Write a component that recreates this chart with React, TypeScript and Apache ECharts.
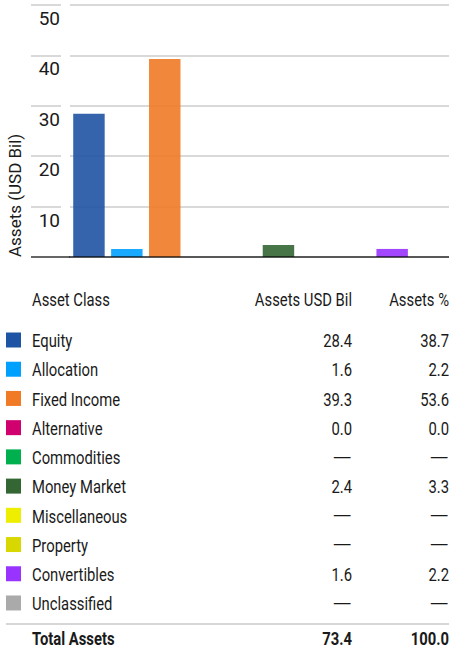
import React, { useEffect, useRef } from "react";
import * as echarts from "echarts";

const categories = [
  "Equity",
  "Allocation",
  "Fixed Income",
  "Alternative",
  "Commodities",
  "Money Market",
  "Miscellaneous",
  "Property",
  "Convertibles",
  "Unclassified",
];
const assetsUsdBil: (number | null)[] = [28.4, 1.6, 39.3, 0.0, null, 2.4, null, null, 1.6, null];
const assetsPct: (number | null)[] = [38.7, 2.2, 53.6, 0.0, null, 3.3, null, null, 2.2, null];
const colors = [
  "#1f53a3",
  "#00a0ff",
  "#f07a26",
  "#d0006f",
  "#00b04f",
  "#336633",
  "#eeee00",
  "#d8d800",
  "#9933ff",
  "#aaaaaa",
];
const totalUsdBil = 73.4;
const totalPct = 100.0;
const yTicks = { min: 0, max: 50, interval: 10 };
const headers = ["Asset Class", "Assets USD Bil", "Assets %"];
const totalLabel = "Total Assets";

const FONT = "Roboto, 'DejaVu Sans Condensed', sans-serif";
const TEXT = "#1a1a1a";

export default function App() {
  const ref = useRef<HTMLDivElement>(null);
  useEffect(() => {
    document.body.style.margin = "0";
    if (!ref.current) return;
    const chart = echarts.init(ref.current, null, { renderer: "svg" });

    const fmt = (v: number | null) => (v === null ? "\u2014" : v.toFixed(1));
    const rowY0 = 340.5;
    const rowStep = 29.22;
    const colName = 32;
    const colVal = 352;
    const colPct = 449;

    const tableEls: any[] = [];
    const txt = (x: number, y: number, s: string, align: string, bold = false) => ({
      type: "text",
      x,
      y,
      scaleX: s === "\u2014" ? 1.35 : 0.78,
      style: {
        text: s,
        fill: TEXT,
        font: `${bold ? "bold" : "normal"} 19px ${FONT}`,
        align,
        verticalAlign: "middle",
      },
    });
    tableEls.push(txt(colName, 299, headers[0], "left"));
    tableEls.push(txt(colVal, 299, headers[1], "right"));
    tableEls.push(txt(colPct, 299, headers[2], "right"));
    categories.forEach((c, i) => {
      const y = rowY0 + i * rowStep;
      tableEls.push({
        type: "rect",
        shape: { x: 6, y: y - 8, width: 15, height: 15 },
        style: { fill: colors[i] },
      });
      tableEls.push(txt(colName, y, c, "left"));
      tableEls.push(txt(colVal, y, fmt(assetsUsdBil[i]), "right"));
      tableEls.push(txt(colPct, y, fmt(assetsPct[i]), "right"));
    });
    tableEls.push({
      type: "line",
      shape: { x1: 6, y1: 624, x2: 449, y2: 624 },
      style: { stroke: "#c8c8c8", lineWidth: 1.5 },
    });
    tableEls.push(txt(colName, 638, totalLabel, "left", true));
    tableEls.push(txt(colVal, 638, totalUsdBil.toFixed(1), "right", true));
    tableEls.push(txt(colPct, 638, totalPct.toFixed(1), "right", true));

    chart.setOption({
      animation: false,
      grid: { left: 70, top: 5, width: 383, height: 252, containLabel: false },
      xAxis: {
        type: "category",
        data: categories,
        z: 5,
        axisLine: { show: true, lineStyle: { color: "rgba(0,0,0,0.6)", width: 2 } },
        axisTick: { show: false },
        axisLabel: { show: false },
      },
      yAxis: {
        type: "value",
        min: yTicks.min,
        max: yTicks.max,
        interval: yTicks.interval,
        offset: 9,
        name: "Assets (USD Bil)",
        nameLocation: "start",
        nameGap: 0,
        nameRotate: 90,
        nameTextStyle: {
          fontFamily: FONT,
          fontSize: 17,
          color: TEXT,
          align: "left",
          verticalAlign: "bottom",
          padding: [0, 0, 38, 0],
        },
        axisLine: { show: false },
        axisTick: { show: true, length: 30, lineStyle: { color: "#cccccc", width: 1.5 } },
        splitLine: { show: true, lineStyle: { color: "#cccccc", width: 1.5 } },
        axisLabel: {
          showMinLabel: false,
          margin: 1,
          fontFamily: FONT,
          fontSize: 19,
          color: TEXT,
          verticalAlign: "top",
          padding: [4, 0, 0, 0],
        },
      },
      series: [
        {
          type: "bar",
          barWidth: "83%",
          data: assetsUsdBil.map((v, i) => ({
            value: v,
            itemStyle: { color: colors[i], opacity: 0.9 },
          })),
        },
      ],
      graphic: tableEls,
    });

    const y0 = chart.convertToPixel({ yAxisIndex: 0 }, 0) as number;
    chart.setOption({
      graphic: [
        ...tableEls,
        {
          type: "line",
          z: 10,
          shape: { x1: 31, y1: y0, x2: 70, y2: y0 },
          style: { stroke: "rgba(0,0,0,0.6)", lineWidth: 2 },
        },
      ],
    });

    return () => chart.dispose();
  }, []);
  return <div ref={ref} style={{ width: 449, height: 649 }} />;
}
